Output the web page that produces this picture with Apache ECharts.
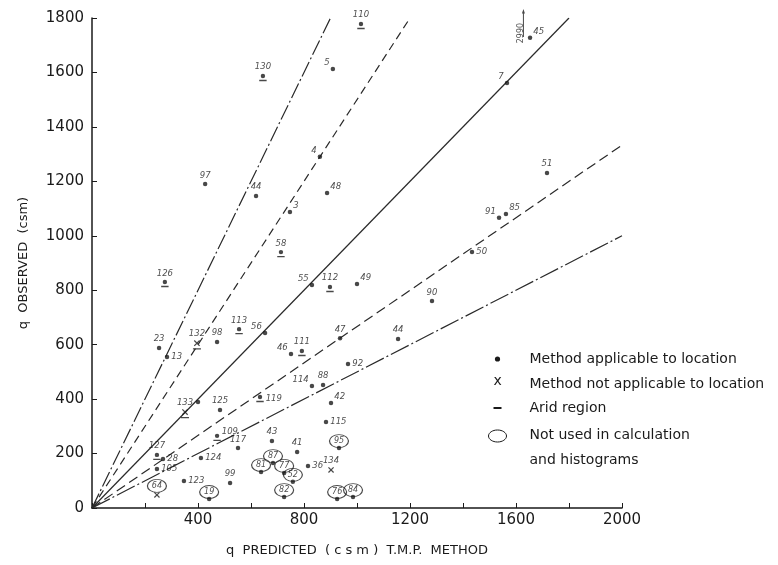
<!DOCTYPE html>
<html>
<head>
<meta charset="utf-8">
<script src="https://cdn.jsdelivr.net/npm/echarts@6/dist/echarts.min.js"></script>
<style>html,body{margin:0;padding:0;background:#fff}#c{width:778px;height:565px}</style>
</head>
<body>
<div id="c"></div>
<script>
// ---------------- data ----------------
const pointIds = ['130','97','44','3','4','48','58','110','5','45',
  '7','51','91','85','50','126','23','13','132','98',
  '113','56','55','112','49','46','111','47','114','88',
  '92','90','44','133','','125','119','42','115','109',
  '117','43','41','36','134','127','28','124','105','123',
  '99','64','19','81','87','77','52','82','95','76','84'];
const predicted = [645,427,619,747,860,887,713,1015,909,1653,
  1566,1717,1536,1562,1434,275,253,283,396,472,
  555,653,830,898,1000,751,792,936,830,872,
  966,1283,1155,351,400,483,634,902,883,472,
  551,679,774,815,902,245,268,411,245,347,
  521,245,442,638,683,725,758,725,932,925,985];
const observed = [1587,1190,1146,1087,1290,1157,940,1778,1613,1727,
  1561,1231,1066,1080,940,830,588,555,606,610,
  657,643,819,812,823,566,577,624,448,452,
  529,760,621,353,389,360,408,386,316,265,
  220,246,206,154,140,195,180,184,143,99,
  92,48,33,132,165,129,96,40,220,33,40];
// A = method applicable, N = not applicable, R = arid region (applicable), RN = arid region (not applicable)
const markerKind = ['R','A','A','A','A','A','R','R','A','A',
  'A','A','A','A','A','R','A','A','RN','A',
  'R','A','A','R','A','A','R','A','A','A',
  'A','A','A','RN','A','A','R','A','A','R',
  'A','A','A','A','N','R','A','A','A','A',
  'A','N','A','A','A','A','A','A','A','A','A'];
const notUsed = ['64','19','81','87','77','52','82','95','76','84'];
// off-scale note for station 45
const offscaleId = '45';
const offscaleObserved = 2990;
// reference lines through the origin (end points)
const lineEndX = [900, 1200, 1800, 2000, 2000];
const lineEndY = [1800, 1800, 1800, 1333, 1000];
const xTicks = [0,400,800,1200,1600,2000];
const yTicks = [0,200,400,600,800,1000,1200,1400,1600,1800];

// ---------------- styles ----------------
const FONT = 'DejaVu Sans';
const INK = '#1a1a1a';
const lineDash = [[16,3,2,3],[8,5],'solid',[10,5],[20,3,2,3]];
const labelPlace = {'3':'tr','4':'tl','48':'tr','5':'tl','45':'tr','7':'tl','91':'tl','85':'tr','50':'right',
  '13':'right','56':'tl','55':'tl','49':'tr','46':'tl','114':'tl','92':'right','119':'right','42':'tr',
  '115':'right','109':'tr','36':'right','28':'right','124':'right','105':'right','123':'right'};
function labelFor(id){
  const p = labelPlace[id] || 'top';
  const base = {show: !!id, formatter: id, fontSize: 8.5, fontStyle:'italic', color: INK, fontFamily: FONT, distance: 2};
  if (p === 'tr') return Object.assign(base, {position:'right', offset:[-1,-6]});
  if (p === 'tl') return Object.assign(base, {position:'left', offset:[1,-6]});
  return Object.assign(base, {position: p});
}
const SYM_X = 'path://M0,1L1,0L7,6L6,7Z M6,0L7,1L1,7L0,6Z';
const SYM_ARID = 'path://M1.5,2.5a2.2,2.2 0 1,0 4.4,0a2.2,2.2 0 1,0 -4.4,0z M0,6.3h7.4v1.4h-7.4z';
const SYM_ARID_X = 'path://M0,1L1,0L7,6L6,7Z M6,0L7,1L1,7L0,6Z M-1,9h9v1.4h-9z';
const SYM_ELL = 'path://M0,6a9,6 0 1,0 18,0a9,6 0 1,0 -18,0z';

const applicable = [], notApplicable = [], arid = [], ellipses = [];
for (let i = 0; i < pointIds.length; i++) {
  const id = pointIds[i], k = markerKind[i];
  const circled = notUsed.indexOf(id) >= 0;
  const lab = circled ? {show:false} : labelFor(id);
  const item = {value:[predicted[i], observed[i]], name:id, label: lab};
  if (k === 'A') applicable.push(item);
  else if (k === 'N') notApplicable.push(item);
  else if (k === 'R') arid.push(Object.assign(item, {symbol: SYM_ARID, symbolSize:[7.4,7.4], symbolOffset:[0,1.5]}));
  else arid.push(Object.assign(item, {symbol: SYM_ARID_X, symbolSize:[8,9.4], symbolOffset:[0,1.7]}));
  if (circled) ellipses.push({value:[predicted[i], observed[i]], name:id,
     symbolOffset:[0, k === 'N' ? -9 : -7]});
}
const idx45 = pointIds.indexOf(offscaleId);

const series = [];
for (let j = 0; j < lineEndX.length; j++) {
  series.push({type:'line', silent:true, symbol:'none', z:1,
    data:[[0,0],[lineEndX[j], lineEndY[j]]],
    lineStyle:{color:'#2a2a2a', width:1.2, type: lineDash[j]}});
}
series.push({name:'Method applicable to location', type:'scatter', data: applicable,
  symbol:'circle', symbolSize:4.5, itemStyle:{color:INK}, z:3});
series.push({name:'Method not applicable to location', type:'scatter', data: notApplicable,
  symbol: SYM_X, symbolSize:6, itemStyle:{color:INK}, z:3});
series.push({name:'Arid region', type:'scatter', data: arid, itemStyle:{color:INK}, z:3});
series.push({name:'Not used in calculation and histograms', type:'scatter', data: ellipses,
  symbol: SYM_ELL, symbolSize:[19,13], z:4,
  itemStyle:{color:'rgba(0,0,0,0)', borderColor:INK, borderWidth:1},
  label:{show:true, position:'inside', formatter: p => p.name, fontSize:8, fontStyle:'italic', color:INK, fontFamily:FONT}});
series.push({name:'offscale', type:'scatter', silent:true, clip:false, z:4,
  data:[{value:[predicted[idx45] - 25, observed[idx45] + 55], name:String(offscaleObserved)}],
  symbol:'path://M1.5,0L3,5L2,5L2,30L1,30L1,5L0,5Z', symbolSize:[3,28], itemStyle:{color:INK},
  label:{show:true, position:'left', distance:1, rotate:90, formatter: p => p.name, fontSize:8, color:INK, fontFamily:FONT}});

const chart = echarts.init(document.getElementById('c'), null, {renderer:'canvas'});
chart.setOption({
  backgroundColor:'#fff',
  animation:false,
  grid:{left:92, top:18, width:530, height:490, containLabel:false},
  xAxis:{type:'value', min:0, max:2000, interval:200,
    name:'q  PREDICTED  ( c s m )  T.M.P.  METHOD', nameLocation:'middle', nameGap:36,
    nameTextStyle:{fontFamily:FONT, fontSize:13, color:INK},
    axisLine:{lineStyle:{color:INK, width:1.5}},
    axisTick:{inside:true, length:5, lineStyle:{color:INK, width:1}},
    axisLabel:{margin:5, fontFamily:FONT, fontSize:15, color:INK,
      formatter: v => (xTicks.indexOf(v) > 0 ? String(v) : '')},
    splitLine:{show:false}},
  yAxis:{type:'value', min:0, max:1800, interval:200,
    name:'q  OBSERVED  (csm)', nameLocation:'middle', nameGap:62,
    nameTextStyle:{fontFamily:FONT, fontSize:13, color:INK},
    axisLine:{lineStyle:{color:INK, width:1.5}},
    axisTick:{inside:true, length:5, lineStyle:{color:INK, width:1}},
    axisLabel:{margin:8, fontFamily:FONT, fontSize:15, color:INK,
      formatter: v => (yTicks.indexOf(v) >= 0 ? String(v) : '')},
    splitLine:{show:false}},
  series: series,
  graphic:[{type:'group', left:486, top:352, children:[
    {type:'circle', shape:{cx:6, cy:7, r:2.6}, style:{fill:INK}},
    {type:'text', style:{x:2, y:22, text:'x', font:'14px '+FONT, fill:INK}},
    {type:'rect', shape:{x:2, y:55, width:8, height:2}, style:{fill:INK}},
    {type:'ellipse', shape:{cx:6, cy:84, rx:9, ry:6}, style:{fill:'none', stroke:INK, lineWidth:1}},
    {type:'text', style:{x:38, y:0, text:'Method applicable to location', font:'14px '+FONT, fill:INK}},
    {type:'text', style:{x:38, y:25, text:'Method not applicable to location', font:'14px '+FONT, fill:INK}},
    {type:'text', style:{x:38, y:49, text:'Arid region', font:'14px '+FONT, fill:INK}},
    {type:'text', style:{x:38, y:76, text:'Not used in calculation', font:'14px '+FONT, fill:INK}},
    {type:'text', style:{x:38, y:101, text:'and histograms', font:'14px '+FONT, fill:INK}}
  ]}]
});
</script>
</body>
</html>
